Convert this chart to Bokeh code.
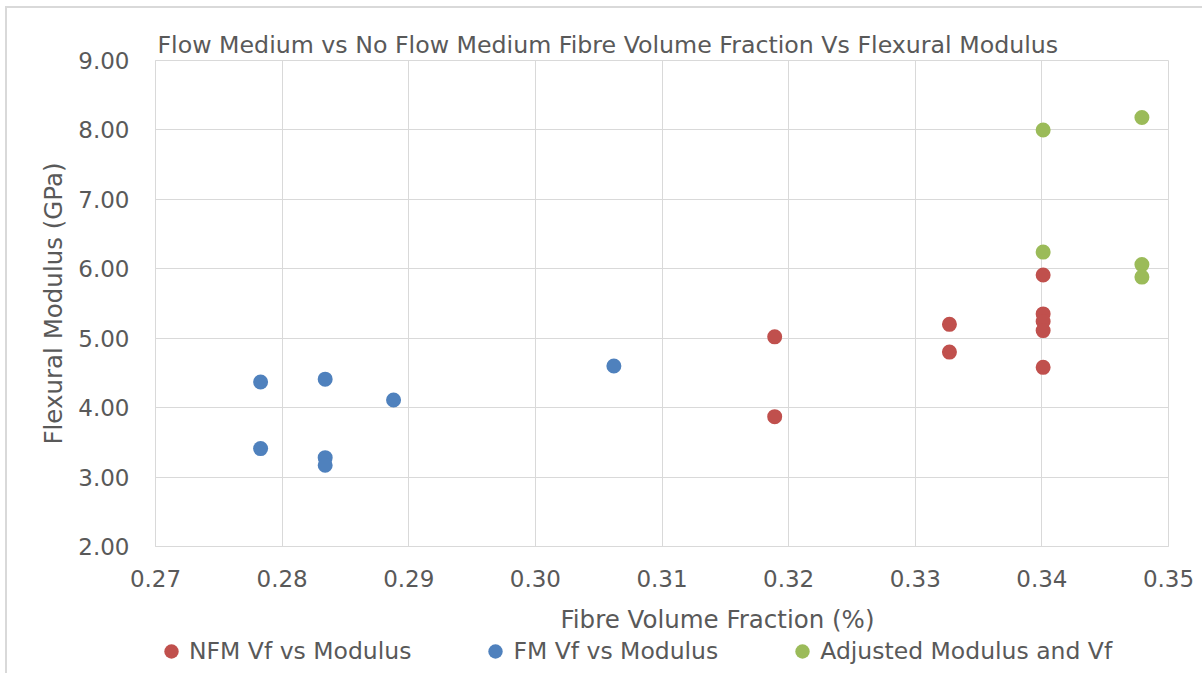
from bokeh.plotting import figure
from bokeh.layouts import column
from bokeh.models import (Title, Legend, LegendItem, NumeralTickFormatter, FixedTicker,
                          Range1d, InlineStyleSheet)
from bokeh.embed import file_html
from bokeh.resources import INLINE

# Data
fm_vf = [0.2783, 0.2783, 0.2834, 0.2834, 0.2834, 0.2888, 0.3062]
fm_mod = [4.37, 3.41, 4.41, 3.28, 3.17, 4.11, 4.60]
nfm_vf = [0.3189, 0.3189, 0.3327, 0.3327, 0.3401, 0.3401, 0.3401, 0.3401, 0.3401]
nfm_mod = [5.02, 3.87, 5.20, 4.80, 5.91, 5.35, 5.24, 5.11, 4.58]
adj_vf = [0.3401, 0.3401, 0.3479, 0.3479, 0.3479]
adj_mod = [8.00, 6.24, 8.18, 6.06, 5.88]

x_ticks = [0.27, 0.28, 0.29, 0.30, 0.31, 0.32, 0.33, 0.34, 0.35]
y_ticks = [2, 3, 4, 5, 6, 7, 8, 9]

series_names = ["NFM Vf vs Modulus", "FM Vf vs Modulus", "Adjusted Modulus and Vf"]
colors = ["#C0504D", "#4F81BD", "#9BBB59"]

title_text = "Flow Medium vs No Flow Medium Fibre Volume Fraction Vs Flexural Modulus"
x_label = "Fibre Volume Fraction (%)"
y_label = "Flexural Modulus (GPa)"

FONT = "DejaVu Sans"
TXT = "#595959"
GRID = "#D9D9D9"

p = figure(width=1202, height=600, x_range=(0.27, 0.35), y_range=(2, 9),
           output_backend="svg", toolbar_location=None,
           min_border_left=155, min_border_right=34, min_border_top=60, min_border_bottom=54,
           background_fill_color="white", border_fill_color="white")
p.outline_line_color = GRID
p.title.text = title_text
p.title.text_font = FONT
p.title.text_font_size = "23.7px"
p.title.text_font_style = "normal"
p.title.text_color = TXT
p.title.align = "left"
p.title.offset = 2
p.title.standoff = 3

p.grid.grid_line_color = GRID
p.grid.grid_line_width = 1

p.xaxis.ticker = FixedTicker(ticks=x_ticks)
p.yaxis.ticker = FixedTicker(ticks=y_ticks)
p.xaxis.formatter = NumeralTickFormatter(format="0.00")
p.yaxis.formatter = NumeralTickFormatter(format="0.00")
for ax in (p.xaxis[0], p.yaxis[0]):
    ax.axis_line_color = GRID
    ax.major_tick_line_color = None
    ax.minor_tick_line_color = None
    ax.major_tick_out = 0
    ax.major_tick_in = 0
    ax.major_label_text_font = FONT
    ax.major_label_text_font_size = "23px"
    ax.major_label_text_color = TXT
    ax.axis_label_text_font = FONT
    ax.axis_label_text_font_size = "24.5px"
    ax.axis_label_text_font_style = "normal"
    ax.axis_label_text_color = TXT
p.xaxis.major_label_standoff = 23
p.yaxis.major_label_standoff = 26
p.yaxis.axis_label = y_label
p.yaxis.axis_label_standoff = 7

r1 = p.scatter(nfm_vf, nfm_mod, size=15, color=colors[0], line_color=None)
r2 = p.scatter(fm_vf, fm_mod, size=15, color=colors[1], line_color=None)
r3 = p.scatter(adj_vf, adj_mod, size=15, color=colors[2], line_color=None)

# Strip below the chart: x-axis title and the legend
lg = figure(width=1202, height=73, output_backend="svg", toolbar_location=None,
            x_axis_type=None, y_axis_type=None,
            x_range=Range1d(0, 1), y_range=Range1d(-1, 0),
            min_border_left=155, min_border_right=34, min_border_top=33, min_border_bottom=0,
            background_fill_color="white", border_fill_color="white")
lg.outline_line_color = None
lg.grid.visible = False
xt = Title(text=x_label, align="left", offset=405, text_font=FONT, text_font_size="24.5px",
           text_font_style="normal", text_color=TXT, standoff=0)
lg.add_layout(xt, "above")
# legend proxies: same series, drawn outside this strip's visible range
l1 = lg.scatter(nfm_vf, nfm_mod, size=15, color=colors[0], line_color=None)
l2 = lg.scatter(fm_vf, fm_mod, size=15, color=colors[1], line_color=None)
l3 = lg.scatter(adj_vf, adj_mod, size=15, color=colors[2], line_color=None)
legend = Legend(items=[LegendItem(label=series_names[0], renderers=[l1]),
                       LegendItem(label=series_names[1], renderers=[l2]),
                       LegendItem(label=series_names[2], renderers=[l3])],
                orientation="horizontal", location=(-2, 4),
                glyph_width=36, glyph_height=36, label_standoff=0, spacing=66,
                padding=0, margin=0, border_line_color=None, background_fill_alpha=0,
                label_text_font=FONT, label_text_font_size="23.5px", label_text_color=TXT)
lg.add_layout(legend, "center")

frame_css = InlineStyleSheet(css=""":host { position: relative; }
:host::after { content: ""; position: absolute; left: 5px; top: 6px; right: 0; bottom: 0;
  border-top: 2px solid #D9D9D9; border-left: 2px solid #D9D9D9; pointer-events: none; }""")
layout = column(p, lg, spacing=0, stylesheets=[frame_css])
open("out.html", "w").write(file_html(layout, INLINE))
